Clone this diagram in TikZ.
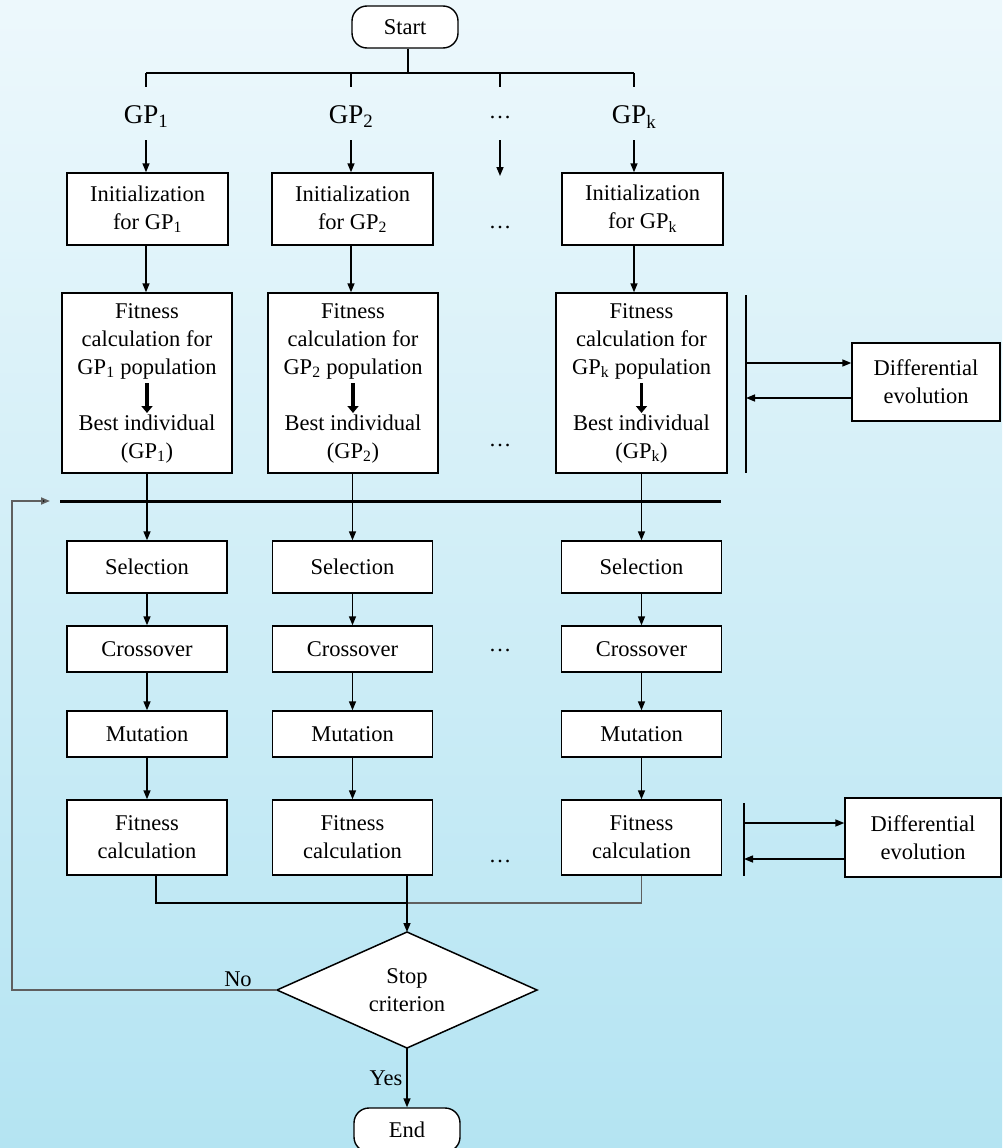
\documentclass[tikz,border=0pt]{standalone}
\usepackage{fontspec}
\setmainfont{Liberation Serif}
\usetikzlibrary{arrows.meta,calc}
\begin{document}
\begin{tikzpicture}[x=1pt,y=-1pt,
  ln/.style={line width=1.5pt,draw=black},
  arr/.style={ln,-{Triangle[length=9pt,width=7pt]}},
  gline/.style={line width=1.8pt,draw={rgb,255:red,95;green,95;blue,95}},
  garr/.style={gline,-{Triangle[length=9pt,width=7pt,fill=black]}},
  txt/.style={font=\fontsize{22.5}{28}\selectfont},
  box/.style={txt,draw,line width=1.4pt,fill=white,align=center,inner sep=0pt},
  term/.style={box,rounded corners=15pt},
  gplab/.style={inner sep=0pt,minimum height=46pt,font=\fontsize{27}{32}\selectfont},
  basetxt/.style={txt,inner sep=0pt,anchor=base},
  fatarr/.style={line width=3.4pt,-{Triangle[length=7pt,width=11pt]}},
]
% background
\shade[top color={rgb,255:red,237;green,248;blue,252},bottom color={rgb,255:red,180;green,228;blue,242}] (0,0) rectangle (1002,1148);
\useasboundingbox (0,0) rectangle (1002,1148);

% start and distribution bus
\node[term,minimum width=106pt,minimum height=42pt] (start) at (405,27) {Start};
\coordinate (bus) at (408,73);
\coordinate (busL) at (146,73);
\coordinate (busR) at (634,73);
\draw[ln] (start.south -| bus) -- (bus);
\draw[ln] (busL) -- (busR);

\node[gplab] (gp1) at (146,117) {GP\textsubscript{1}};
\node[gplab] (gp2) at (351,117) {GP\textsubscript{2}};
\node[gplab] (gpd) at (500,117) {\fontsize{22.5}{28}\selectfont …};
\node[gplab] (gpk) at (634,117) {GP\textsubscript{k}};
\foreach \g in {gp1,gp2,gpd,gpk}{
  \draw[ln] (\g.north |- bus) -- ++(0,14);
}

% initialization
\node[box,minimum width=161pt,minimum height=72pt] (init1) at (147.5,209) {Initialization\\for GP\textsubscript{1}};
\node[box,minimum width=161pt,minimum height=72pt] (init2) at (352.5,209) {Initialization\\for GP\textsubscript{2}};
\node[box,minimum width=161pt,minimum height=72pt] (initk) at (642.5,209) {Initialization\\for GP\textsubscript{k}};
\node[basetxt] (d1) at (500,228) {…};
\coordinate (dA) at (500,176);
\draw[arr] (gp1.south) -- (gp1.south |- init1.north);
\draw[arr] (gp2.south) -- (gp2.south |- init2.north);
\draw[arr] (gpd.south) -- (dA);
\draw[arr] (gpk.south) -- (gpk.south |- initk.north);

% fitness for populations
\node[box,minimum width=170pt,minimum height=180pt] (fit1) at (147,383) {Fitness\\calculation for\\GP\textsubscript{1} population\\\mbox{}\\Best individual\\(GP\textsubscript{1})};
\node[box,minimum width=170pt,minimum height=180pt] (fit2) at (353,383) {Fitness\\calculation for\\GP\textsubscript{2} population\\\mbox{}\\Best individual\\(GP\textsubscript{2})};
\node[box,minimum width=171pt,minimum height=180pt] (fitk) at (641.5,383) {Fitness\\calculation for\\GP\textsubscript{k} population\\\mbox{}\\Best individual\\(GP\textsubscript{k})};
\foreach \f in {fit1,fit2,fitk}{
  \draw[fatarr] ($(\f.center)+(0,0)$) -- ($(\f.center)+(0,30)$);
}
\node[basetxt] (d2) at (500,446) {…};
\draw[arr] (init1.south -| gp1) -- (fit1.north -| gp1);
\draw[arr] (init2.south -| gp2) -- (fit2.north -| gp2);
\draw[arr] (initk.south -| gpk) -- (fitk.north -| gpk);

% differential evolution 1
\node[box,minimum width=148pt,minimum height=78pt] (de1) at (926,382) {Differential\\evolution};
\coordinate (b1t) at (746,295);
\coordinate (b1b) at (746,473);
\coordinate (b1a) at (746,363);
\coordinate (b1r) at (746,398);
\draw[ln] (b1t) -- (b1b);
\draw[arr] (b1a) -- (b1a -| de1.west);
\draw[arr] (b1r -| de1.west) -- (b1r);

% thick synchronisation line
\coordinate (hl) at (60,501);
\coordinate (hr) at (721,501);
\draw[line width=3pt] (hl) -- (hr);

% GP operators
\foreach \i/\x in {1/147,2/352.5,k/641.5}{
  \node[box,minimum width=160pt,minimum height=52pt] (sel\i) at (\x,567) {Selection};
  \node[box,minimum width=160pt,minimum height=46pt] (cro\i) at (\x,649) {Crossover};
  \node[box,minimum width=160pt,minimum height=46pt] (mut\i) at (\x,734) {Mutation};
  \node[box,minimum width=160pt,minimum height=75pt] (fc\i) at (\x,837.5) {Fitness\\calculation};
  \draw[arr] (sel\i.south) -- (cro\i.north);
  \draw[arr] (cro\i.south) -- (mut\i.north);
  \draw[arr] (mut\i.south) -- (fc\i.north);
}
\draw[arr] (fit1.south -| sel1) -- (sel1.north);
\draw[arr] (fit2.south -| sel2) -- (sel2.north);
\draw[arr] (fitk.south -| selk) -- (selk.north);
\node[basetxt] (d3) at (500,651) {…};
\node[basetxt] (d4) at (500,862) {…};

% differential evolution 2
\node[box,minimum width=156pt,minimum height=79pt] (de2) at (923,837.5) {Differential\\evolution};
\coordinate (b2t) at (744,803);
\coordinate (b2b) at (744,876);
\coordinate (b2a) at (744,823);
\coordinate (b2r) at (744,859);
\draw[ln] (b2t) -- (b2b);
\draw[arr] (b2a) -- (b2a -| de2.west);
\draw[arr] (b2r -| de2.west) -- (b2r);

% stop criterion
\coordinate (dN) at (407,932);
\coordinate (dS) at (407,1048);
\coordinate (dW) at (277,990);
\coordinate (dE) at (537,990);
\draw[ln,fill=white] (dN) -- (dE) -- (dS) -- (dW) -- cycle;
\node[txt,align=center,inner sep=0pt] (stop) at (407,990) {Stop\\criterion};

% collector
\coordinate (jn) at (407,903);
\draw[gline] (fck.south) |- (jn);
\draw[ln] ([xshift=9pt]fc1.south) |- (jn);
\draw[ln] ([xshift=54.5pt]fc2.south) -- (jn);
\draw[arr] (jn) -- (dN);

% loop back
\coordinate (lp1) at (12,990);
\coordinate (lp2) at (12,501);
\coordinate (lpe) at (50,501);
\draw[garr] (dW) -- (lp1) -- (lp2) -- (lpe);
\node[basetxt] (no) at (238,986) {No};

% end
\node[term,minimum width=106pt,minimum height=44pt] (end) at (407,1130) {End};
\draw[arr] (dS) -- (end.north);
\node[basetxt] (yes) at (386,1085) {Yes};
\end{tikzpicture}
\end{document}
